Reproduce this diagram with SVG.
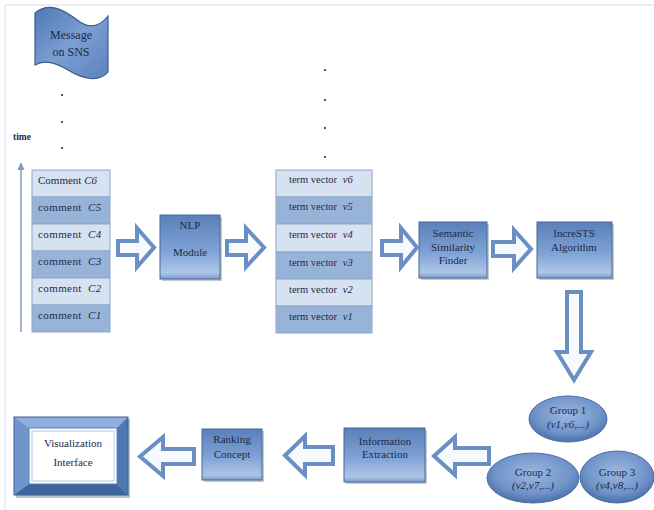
<svg xmlns="http://www.w3.org/2000/svg" width="654" height="510" viewBox="0 0 654 510" font-family="'Liberation Serif', 'DejaVu Serif', serif">
<style>
text{font-family:"Liberation Serif","DejaVu Serif",serif}
.t{font-size:11px;fill:#1c2a48;text-anchor:middle}
.s{font-size:11px;fill:#1c2a48}
.i{font-style:italic}
.box{fill:url(#gBox);stroke:#46689a;stroke-width:1}
.sh{fill:#9aa6b4;opacity:0.6}
.lt{fill:#d7e2f0;stroke:#8fa8c8;stroke-width:1}
.dk{fill:#97b4d8;stroke:#8fa8c8;stroke-width:1}
.arr{fill:#f6f9fd;stroke:#6a8fc3;stroke-width:4;stroke-linejoin:miter}
.ell{fill:url(#gEll);stroke:#4a6fa5;stroke-width:1}
.dot{fill:#222}
</style>
<defs>
<linearGradient id="gBox" x1="0" y1="0" x2="0" y2="1">
<stop offset="0" stop-color="#5a80ba"/>
<stop offset="0.55" stop-color="#7fa2d4"/>
<stop offset="0.9" stop-color="#aec6e8"/>
<stop offset="1" stop-color="#7d9ccb"/>
</linearGradient>
<radialGradient id="gEll" cx="0.5" cy="0.4" r="0.6">
<stop offset="0" stop-color="#9bb7e0"/>
<stop offset="0.7" stop-color="#6f93c9"/>
<stop offset="1" stop-color="#4a70a9"/>
</radialGradient>
<linearGradient id="gWave" x1="0" y1="0" x2="1" y2="1">
<stop offset="0" stop-color="#4f78b4"/>
<stop offset="0.5" stop-color="#7c9fd2"/>
<stop offset="1" stop-color="#5a82bc"/>
</linearGradient>
</defs>

<!-- faint frame -->
<line x1="5" y1="5" x2="654" y2="5" stroke="#e3eaf2" stroke-width="1.5"/>
<line x1="5" y1="5" x2="5" y2="510" stroke="#e3eaf2" stroke-width="1.5"/>

<g id="message">
<path d="M35,13 C48,2 62,8 80,22 C92,30 102,24 108,16 L108,72 C100,82 84,80 68,70 C55,62 43,60 35,65 Z" fill="url(#gWave)" stroke="#3c5d8e" stroke-width="1.2"/>
<text class="t" x="71" y="39" style="font-size:12px">Message</text>
<text class="t" x="71" y="56" style="font-size:12px">on SNS</text>
</g>

<g id="dots-left">
<circle class="dot" cx="62" cy="95" r="1"/>
<circle class="dot" cx="62" cy="122" r="1"/>
<circle class="dot" cx="62" cy="148" r="1"/>
</g>

<g id="time-axis">
<text class="s" x="13" y="140" style="font-size:9.5px;font-weight:bold">time</text>
<line x1="21" y1="332" x2="21" y2="168" stroke="#7f9cc0" stroke-width="1.5"/>
<polygon points="17.5,170 21,162 24.5,170" fill="#7f9cc0"/>
</g>

<g id="comments">
<rect class="lt" x="32" y="170" width="78" height="27"/>
<rect class="dk" x="32" y="197" width="78" height="27"/>
<rect class="lt" x="32" y="224" width="78" height="27"/>
<rect class="dk" x="32" y="251" width="78" height="27"/>
<rect class="lt" x="32" y="278" width="78" height="27"/>
<rect class="dk" x="32" y="305" width="78" height="27"/>
<text class="s" x="38" y="184">Comment <tspan class="i">C6</tspan></text>
<text class="s" x="38" y="211" letter-spacing="0.4">comment <tspan class="i" dx="3">C5</tspan></text>
<text class="s" x="38" y="238" letter-spacing="0.4">comment <tspan class="i" dx="3">C4</tspan></text>
<text class="s" x="38" y="265" letter-spacing="0.4">comment <tspan class="i" dx="3">C3</tspan></text>
<text class="s" x="38" y="292" letter-spacing="0.4">comment <tspan class="i" dx="3">C2</tspan></text>
<text class="s" x="38" y="319" letter-spacing="0.4">comment <tspan class="i" dx="3">C1</tspan></text>
</g>

<g id="nlp">
<rect class="sh" x="162" y="217" width="60" height="64"/>
<rect class="box" x="160" y="215" width="60" height="64"/>
<text class="t" x="190" y="229">NLP</text>
<text class="t" x="190" y="256">Module</text>
</g>

<g id="dots-mid">
<circle class="dot" cx="325" cy="70" r="1"/>
<circle class="dot" cx="325" cy="100" r="1"/>
<circle class="dot" cx="325" cy="128" r="1"/>
<circle class="dot" cx="325" cy="157" r="1"/>
</g>

<g id="term-vectors">
<rect class="lt" x="276" y="170" width="96" height="27"/>
<rect class="dk" x="276" y="197" width="96" height="27"/>
<rect class="lt" x="276" y="224" width="96" height="28"/>
<rect class="dk" x="276" y="252" width="96" height="27"/>
<rect class="lt" x="276" y="279" width="96" height="27"/>
<rect class="dk" x="276" y="306" width="96" height="27"/>
<text class="s" x="289" y="183" style="font-size:10.5px">term vector <tspan class="i" dx="3">v6</tspan></text>
<text class="s" x="289" y="210" style="font-size:10.5px">term vector <tspan class="i" dx="3">v5</tspan></text>
<text class="s" x="289" y="238" style="font-size:10.5px">term vector <tspan class="i" dx="3">v4</tspan></text>
<text class="s" x="289" y="266" style="font-size:10.5px">term vector <tspan class="i" dx="3">v3</tspan></text>
<text class="s" x="289" y="293" style="font-size:10.5px">term vector <tspan class="i" dx="3">v2</tspan></text>
<text class="s" x="289" y="320" style="font-size:10.5px">term vector <tspan class="i" dx="3">v1</tspan></text>
</g>

<g id="semantic">
<rect class="sh" x="421" y="224" width="68" height="56"/>
<rect class="box" x="419" y="222" width="68" height="56"/>
<text class="t" x="453" y="237">Semantic</text>
<text class="t" x="453" y="251">Similarity</text>
<text class="t" x="453" y="264">Finder</text>
</g>

<g id="increSTS">
<rect class="sh" x="539" y="224" width="75" height="56"/>
<rect class="box" x="537" y="222" width="75" height="56"/>
<text class="t" x="574" y="237">IncreSTS</text>
<text class="t" x="574" y="251">Algorithm</text>
</g>

<g id="group1">
<ellipse class="ell" cx="568" cy="419" rx="39" ry="23"/>
<text class="t" x="568" y="414">Group 1</text>
<text class="t i" x="568" y="428">(v1,v6,...)</text>
</g>
<g id="group2">
<ellipse class="ell" cx="533" cy="478" rx="46" ry="25"/>
<text class="t" x="533" y="476">Group 2</text>
<text class="t i" x="533" y="489">(v2,v7,...)</text>
</g>
<g id="group3">
<ellipse class="ell" cx="617" cy="477" rx="37" ry="26"/>
<text class="t" x="617" y="476">Group 3</text>
<text class="t i" x="617" y="489">(v4,v8,...)</text>
</g>

<g id="info">
<rect class="sh" x="346" y="430" width="81" height="54"/>
<rect class="box" x="344" y="428" width="81" height="54"/>
<text class="t" x="385" y="445">Information</text>
<text class="t" x="385" y="458">Extraction</text>
</g>

<g id="ranking">
<rect class="sh" x="204" y="431" width="60" height="51"/>
<rect class="box" x="202" y="429" width="60" height="51"/>
<text class="t" x="232" y="443">Ranking</text>
<text class="t" x="232" y="458">Concept</text>
</g>

<g id="visualization">
<rect x="16" y="419" width="114" height="79" fill="#8e9aaa" opacity="0.6"/>
<polygon points="14,417 128,417 117,428 29,428" fill="#8fb0de"/>
<polygon points="14,417 29,428 29,484 14,495" fill="#6f95cc"/>
<polygon points="128,417 128,495 117,484 117,428" fill="#4f77b2"/>
<polygon points="14,495 29,484 117,484 128,495" fill="#3f659e"/>
<rect x="14" y="417" width="114" height="78" fill="none" stroke="#3e5f92" stroke-width="1"/>
<rect x="29" y="428" width="88" height="56" fill="#ffffff" stroke="#5a7fb6" stroke-width="1"/>
<rect x="32" y="431" width="82" height="50" fill="none" stroke="#9fb8dc" stroke-width="0.8"/>
<text class="t" x="73" y="447">Visualization</text>
<text class="t" x="73" y="466">Interface</text>
</g>

<g id="connectors">
<polygon class="arr" points="118,241 137,241 137,228 154,247.5 137,267 137,255 118,255"/>
<polygon class="arr" points="227,241 246,241 246,228 264,247.5 246,267 246,255 227,255"/>
<polygon class="arr" points="382,241 401,241 401,228 417,247.5 401,267 401,255 382,255"/>
<polygon class="arr" points="493,242 514,242 514,230 531,249 514,268 514,256 493,256"/>
<polygon class="arr" points="567,292 581,292 581,352 591,352 574,380 557,352 567,352"/>
<polygon class="arr" points="489,448 455,448 455,437 434,456 455,475 455,464 489,464"/>
<polygon class="arr" points="333,447 305,447 305,436 285,455.5 305,475 305,464 333,464"/>
<polygon class="arr" points="194,449 163,449 163,437 140,456.5 163,476 163,464 194,464"/>
</g>
</svg>
